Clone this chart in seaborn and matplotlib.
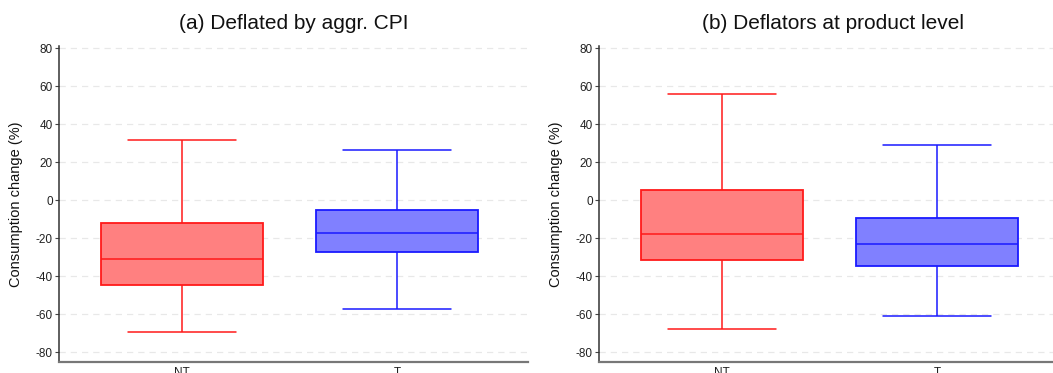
import numpy as np
import pandas as pd
import matplotlib
matplotlib.use("Agg")
import matplotlib.pyplot as plt
import seaborn as sns

# ---- data ----
categories = ["NT", "T"]
panel_titles = ["(a) Deflated by aggr. CPI", "(b) Deflators at product level"]
# box summary stats per category: [lower whisker, Q1, median, Q3, upper whisker]
panel_a_NT = [-69.3, -44.7, -30.7, -11.8, 31.6]
panel_a_T = [-57.2, -27.4, -17.2, -4.9, 26.7]
panel_b_NT = [-67.5, -31.4, -17.9, 5.4, 56.0]
panel_b_T = [-60.9, -34.4, -23.0, -9.3, 29.1]
y_ticks = [-80, -60, -40, -20, 0, 20, 40, 60, 80]
y_label = "Consumption change (%)"

fill_colors = {"NT": "#ff8080", "T": "#8080ff"}
line_colors = {"NT": "#ff1a1a", "T": "#1a1aff"}

sns.set_theme(style="white")
plt.rcParams["font.family"] = ["Liberation Sans", "DejaVu Sans"]

fig = plt.figure(figsize=(10.53, 3.73), dpi=100)
W, H = 1053, 373
ax_w = 469 / W
ax_b = 11 / H
ax_h = (362 - 46) / H
axes = [fig.add_axes([59 / W, ax_b, ax_w, ax_h]),
        fig.add_axes([599 / W, ax_b, ax_w, ax_h])]

panels = [(panel_a_NT, panel_a_T), (panel_b_NT, panel_b_T)]

for ax, title, (nt, t) in zip(axes, panel_titles, panels):
    df = pd.DataFrame({
        "cat": ["NT"] * len(nt) + ["T"] * len(t),
        "val": nt + t,
    })
    for c in categories:
        sub = df[df["cat"] == c]
        sns.boxplot(data=sub, x="cat", y="val", order=categories, ax=ax,
                    whis=(0, 100), width=0.75, color=fill_colors[c],
                    linecolor=line_colors[c], linewidth=1.1,
                    saturation=1, showfliers=False)
    # widen caps to half the box width (visual style of the reference)
    for ln in ax.lines:
        xd = np.asarray(ln.get_xdata(), dtype=float)
        yd = np.asarray(ln.get_ydata(), dtype=float)
        if len(xd) == 2 and np.isclose(yd[0], yd[1]):
            span = abs(xd[1] - xd[0])
            if span < 0.6:
                cen = xd.mean()
                ln.set_xdata([cen - 0.25, cen + 0.25])
    for p in ax.patches:
        p.set_linewidth(1.3)

    ax.set_xlim(-0.572, 1.609)
    ax.set_ylim(-85.0, 81.2)
    ax.set_yticks(y_ticks)
    ax.set_yticklabels([str(v) for v in y_ticks], fontsize=8.5, color="#222222")
    ax.set_xticks(range(len(categories)))
    ax.set_xticklabels(categories, fontsize=8.5, color="#222222")
    ax.tick_params(axis="x", length=0, pad=3.5)
    ax.tick_params(axis="y", length=3, width=0.8, color="#444444", pad=1.5, left=True)
    ax.set_xlabel("")
    ax.set_ylabel(y_label, fontsize=10.5, color="#111111", labelpad=9)
    ax.set_title(title, fontsize=15, color="#111111", pad=12)
    ax.yaxis.grid(True, color="#e8e8e8", linestyle=(0, (5, 4)), linewidth=0.9)
    ax.xaxis.grid(False)
    ax.set_axisbelow(True)
    for s in ["top", "right"]:
        ax.spines[s].set_visible(False)
    ax.spines["left"].set_color("#333333")
    ax.spines["bottom"].set_color("#777777")
    ax.spines["left"].set_linewidth(1.1)
    ax.spines["bottom"].set_linewidth(1.6)

fig.savefig("out.png", dpi=100)
